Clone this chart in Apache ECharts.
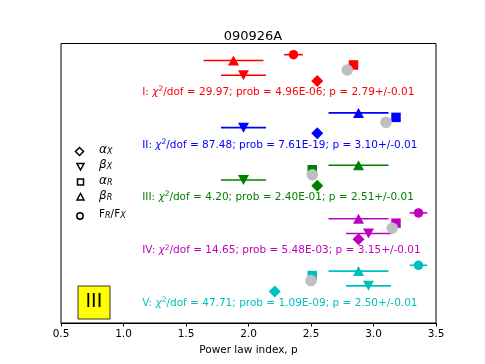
<!DOCTYPE html>
<html>
<head>
<meta charset="utf-8">
<script src="https://cdn.jsdelivr.net/npm/echarts@6/dist/echarts.min.js"></script>
<style>
  html, body { margin: 0; padding: 0; background: #fff; }
  #chart { width: 485px; height: 364px; }
</style>
</head>
<body>
<div id="chart"></div>
<script>
// groups I..V, drawn top to bottom
const groups = ['I', 'II', 'III', 'IV', 'V'];
const colors = ['#ff0000', '#0000ff', '#008000', '#bf00bf', '#00bfbf'];
const baseY = [23.1, 17.85, 12.6, 7.25, 2.0];   // row of the fit text

// marker x values (power law index p) and half error bars
const alphaX = [2.55, 2.55, 2.55, 2.88, 2.21];
const betaX = [1.96, 1.96, 1.96, 2.96, 2.96];
const betaXErr = [0.18, 0.18, 0.18, 0.18, 0.18];
const alphaR = [2.84, 3.18, 2.51, 3.18, 2.51];
const betaR = [1.88, 2.88, 2.88, 2.88, 2.88];
const betaRErr = [0.24, 0.24, 0.24, 0.24, 0.24];
const ratio = [2.36, null, null, 3.36, 3.36];
const ratioErr = [0.075, 0, 0, 0.07, 0.07];
const pFit = [2.79, 3.10, 2.51, 3.15, 2.50];

// vertical offsets of each marker row above the text row
const offAlphaX = 1.15, offBetaX = 1.72, offFit = 2.25, offAlphaR = 2.75, offBetaR = 3.2, offRatio = 3.78;

const chi2 = ['29.97', '87.48', '4.20', '14.65', '47.71'];
const prob = ['4.96E-06', '7.61E-19', '2.40E-01', '5.48E-03', '1.09E-09'];
const pText = ['2.79+/-0.01', '3.10+/-0.01', '2.51+/-0.01', '3.15+/-0.01', '2.50+/-0.01'];
const textX = 1.15;

const xTicks = [0.5, 1.0, 1.5, 2.0, 2.5, 3.0, 3.5];

const FONT = 'DejaVu Sans';
const downTri = 'path://M0,0 L10,0 L5,9 Z';

const chart = echarts.init(document.getElementById('chart'));

function pts(xs, off) {
    const out = [];
    xs.forEach((x, i) => {
        if (x != null) out.push({ value: [x, baseY[i] + off], itemStyle: { color: colors[i], opacity: 1 } });
    });
    return out;
}

const errData = [];
[[betaX, betaXErr, offBetaX], [betaR, betaRErr, offBetaR], [ratio, ratioErr, offRatio]].forEach(([xs, es, off]) => {
    xs.forEach((x, i) => {
        if (x != null) errData.push([x, baseY[i] + off, es[i], i]);
    });
});

const textData = groups.map((g, i) => ({
    value: [textX, baseY[i]],
    label: {
        formatter: '{t|' + g + ': }{i|χ}{s|2}{t|/dof = ' + chi2[i] + '; prob = ' + prob[i] + '; p = ' + pText[i] + '}',
        rich: {
            t: { color: colors[i], fontSize: 10.5, fontFamily: FONT },
            i: { color: colors[i], fontSize: 10.5, fontFamily: FONT, fontStyle: 'italic' },
            s: { color: colors[i], fontSize: 7.5, fontFamily: FONT, padding: [0, 0, 6, 0] }
        }
    }
}));

function legendItem(shape, y, label) {
    return [shape, {
        type: 'text', left: 99, top: y - 7.5,
        style: { text: label, rich: {
            g: { fontSize: 12, fontFamily: FONT, fontStyle: 'italic', fill: '#000' },
            n: { fontSize: 10.5, fontFamily: FONT, fill: '#000' },
            b: { fontSize: 8, fontFamily: FONT, fontStyle: 'italic', fill: '#000', padding: [4, 0, 0, 0] }
        } }
    }];
}
const lineStyle = { fill: '#fff', stroke: '#000', lineWidth: 1.5 };
const legendGraphics = [].concat(
    legendItem({ type: 'polygon', shape: { points: [[79.5, 147.5], [83.5, 151.5], [79.5, 155.5], [75.5, 151.5]] }, style: lineStyle }, 151.5, '{g|α}{b|X}'),
    legendItem({ type: 'polygon', shape: { points: [[77, 163.5], [84, 163.5], [80.5, 170]] }, style: lineStyle }, 166.5, '{g|β}{b|X}'),
    legendItem({ type: 'rect', shape: { x: 77.5, y: 179, width: 6, height: 6 }, style: lineStyle }, 182, '{g|α}{b|R}'),
    legendItem({ type: 'polygon', shape: { points: [[80.5, 193.5], [84, 200], [77, 200]] }, style: lineStyle }, 197, '{g|β}{b|R}'),
    legendItem({ type: 'circle', shape: { cx: 80, cy: 216, r: 3.2 }, style: lineStyle }, 216, '{n|F}{b|R}{n|/F}{b|X}')
);

chart.setOption({
    animation: false,
    backgroundColor: '#fff',
    title: {
        text: '090926A', left: 248, top: 25, textAlign: 'center',
        textStyle: { fontFamily: FONT, fontSize: 13, fontWeight: 'normal', color: '#000' }
    },
    grid: { left: 61, right: 49, top: 43.5, bottom: 41, show: true, borderColor: '#000', borderWidth: 1 },
    xAxis: {
        type: 'value', min: 0.5, max: 3.5, interval: 0.5,
        name: 'Power law index, p', nameLocation: 'middle', nameGap: 21,
        nameTextStyle: { fontFamily: FONT, fontSize: 10.5, color: '#000' },
        axisLine: { lineStyle: { color: '#000', width: 1 } },
        axisTick: { length: 3.5, lineStyle: { color: '#000' } },
        axisLabel: { fontFamily: FONT, fontSize: 10.5, color: '#000', margin: 6,
            formatter: v => xTicks.includes(v) ? v.toFixed(1) : '' },
        splitLine: { show: false }
    },
    yAxis: { type: 'value', min: 0, max: 28, show: false, splitLine: { show: false } },
    graphic: legendGraphics.concat([
        { type: 'rect', shape: { x: 78, y: 286, width: 32, height: 33 }, style: { fill: '#ffff00', stroke: '#333', lineWidth: 1 } },
        { type: 'text', left: 85.5, top: 293, style: { text: 'III', fontSize: 19, fontFamily: FONT, fill: '#000' } }
    ]),
    series: [
        {
            type: 'custom', data: errData, z: 2,
            renderItem: (params, api) => {
                const x = api.value(0), y = api.value(1), e = api.value(2);
                const a = api.coord([x - e, y]), b = api.coord([x + e, y]);
                return { type: 'line', shape: { x1: a[0], y1: a[1], x2: b[0], y2: b[1] },
                    style: { stroke: colors[api.value(3)], lineWidth: 1.6 } };
            }
        },
        { type: 'scatter', symbol: 'diamond', symbolSize: 12, data: pts(alphaX, offAlphaX), z: 3 },
        { type: 'scatter', symbol: downTri, symbolSize: [11, 10], data: pts(betaX, offBetaX), z: 3 },
        { type: 'scatter', symbol: 'rect', symbolSize: 9.5, data: pts(alphaR, offAlphaR), z: 3 },
        { type: 'scatter', symbol: 'triangle', symbolSize: [11, 10], data: pts(betaR, offBetaR), z: 3 },
        { type: 'scatter', symbol: 'circle', symbolSize: 9.5, data: pts(ratio, offRatio), z: 3 },
        { type: 'scatter', symbol: 'circle', symbolSize: 11.5, itemStyle: { color: '#bfbfbf', opacity: 1 },
          data: pFit.map((x, i) => [x, baseY[i] + offFit]), z: 4 },
        {
            type: 'scatter', symbolSize: 0, data: textData, z: 5, silent: true,
            itemStyle: { opacity: 1 },
            label: { show: true, position: [0, 0], align: 'left', verticalAlign: 'middle' }
        }
    ]
});
</script>
</body>
</html>
